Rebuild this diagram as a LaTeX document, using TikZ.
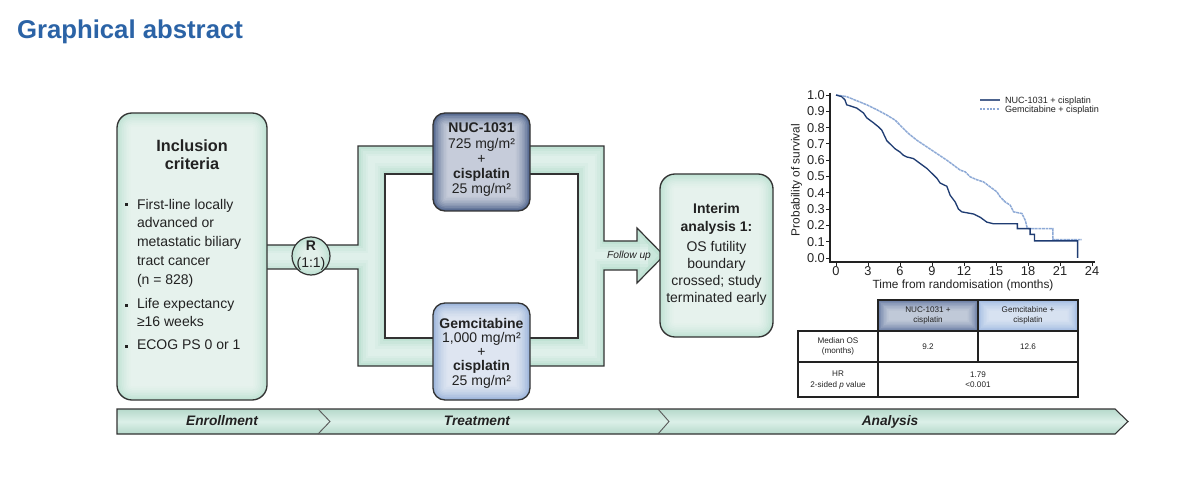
\documentclass[tikz,border=0pt]{standalone}
\usepackage{fontspec}
\setmainfont{Liberation Sans}
\usetikzlibrary{calc}
\definecolor{titleblue}{HTML}{2B63A6}
\definecolor{bandgreen}{HTML}{C0E2D4}
\definecolor{edgegray}{HTML}{333333}
\definecolor{txtgray}{HTML}{222222}
\definecolor{nucblue}{HTML}{53678F}
\definecolor{gemblue}{HTML}{9CB5DB}
\definecolor{nuchead}{HTML}{6C7FA6}
\definecolor{gemhead}{HTML}{A3BCE2}
\definecolor{kmdark}{HTML}{1F3C72}
\definecolor{kmlight}{HTML}{8DA9D6}
\definecolor{barmid}{HTML}{DCF0E8}
\definecolor{baredge}{HTML}{B6D9CB}
% #1 node, #2 corner radius (px), #3 steps, #4 step (px)
\newcommand\glowfill[4]{%
  \foreach \i in {1,...,#3}{%
    \pgfmathsetmacro\rr{max(#2-#4*\i,0.3)*0.75}%
    \pgfmathsetmacro\dd{#4*\i}%
    \fill[white,opacity=0.12,rounded corners=\rr pt]
      ([shift={(\dd,\dd)}]#1.north west) rectangle ([shift={(-\dd,-\dd)}]#1.south east);
  }}
\begin{document}
\begin{tikzpicture}[x=0.75pt,y=-0.75pt,
  every node/.style={inner sep=0pt,outer sep=0pt,text=txtgray},
  gbox/.style={draw=edgegray,line width=1pt,rectangle},
  body/.style={font=\fontsize{10.5}{12}\selectfont},
  bodyb/.style={font=\fontsize{10.5}{12}\selectfont\bfseries},
  hd/.style={font=\fontsize{12.2}{14}\selectfont\bfseries},
  barlbl/.style={font=\fontsize{10.3}{12}\selectfont\bfseries\itshape},
  tick/.style={font=\fontsize{9.6}{11}\selectfont},
  axlbl/.style={font=\fontsize{8.9}{10}\selectfont},
  leg/.style={font=\fontsize{6.8}{8}\selectfont},
  tab/.style={font=\fontsize{6.1}{7.6}\selectfont,align=center},
  cell/.style={draw=txtgray,line width=0.9pt,rectangle},
]
\useasboundingbox[fill=white] (0,0) rectangle (1200,481);

% ---------- title
\node[anchor=base west,font=\fontsize{19.3}{23}\selectfont\bfseries,text=titleblue] (title) at (17,38.5) {Graphical abstract};

% ---------- green band (randomisation frame + follow-up arrow)
\fill[bandgreen,even odd rule]
  (267,245) -- (358,245) -- (358,146) -- (604,146) -- (604,241) -- (637,241) -- (637,228)
  -- (664,255.5) -- (637,283) -- (637,270) -- (604,270) -- (604,366) -- (358,366)
  -- (358,269) -- (267,269) -- cycle
  (385,174) rectangle (578,338);
\foreach \w in {22,17,12,7}{
  \draw[white,opacity=0.17,line width=\w*0.75pt,line join=miter]
    (267,257) -- (371.5,257)
    (371.5,160) rectangle (591,352)
    (591,255.5) -- (648,255.5);
}
\fill[white,opacity=0.17] (640,236) -- (658,255.5) -- (640,275) -- cycle;
\draw[edgegray,line width=0.9pt,line join=miter]
  (267,245) -- (358,245) -- (358,146) -- (604,146) -- (604,241) -- (637,241) -- (637,228)
  -- (664,255.5) -- (637,283) -- (637,270) -- (604,270) -- (604,366) -- (358,366)
  -- (358,269) -- (267,269);
\draw[edgegray,line width=0.9pt] (385,174) rectangle (578,338);
\node[font=\fontsize{7.7}{9}\selectfont\itshape] (fu) at (629,256) {Follow up};

% ---------- inclusion box
\node[gbox,minimum width=112.5pt,minimum height=215.25pt,rounded corners=11.25pt,fill=bandgreen] (incl) at (192,256.5) {};
\glowfill{incl}{15}{8}{1.7}
\node[hd,anchor=mid] (inclA) at (192,148) {Inclusion};
\node[hd,anchor=mid] (inclB) at (192,166) {criteria};
\foreach \y in {205,305,346}{\fill[txtgray] (125,\y-1.5) rectangle (128,\y+1.5);}
\node[body,anchor=mid west] (i1) at (137,206) {First-line locally};
\node[body,anchor=mid west] (i2) at (137,224) {advanced or};
\node[body,anchor=mid west] (i3) at (137,243) {metastatic biliary};
\node[body,anchor=mid west] (i4) at (137,262) {tract cancer};
\node[body,anchor=mid west] (i5) at (137,281) {(n = 828)};
\node[body,anchor=mid west] (i6) at (137,305) {Life expectancy};
\node[body,anchor=mid west] (i7) at (137,323) {≥16 weeks};
\node[body,anchor=mid west] (i8) at (137,346) {ECOG PS 0 or 1};

% ---------- randomisation circle
\node[draw=edgegray,line width=0.9pt,circle,minimum size=28.5pt,fill=bandgreen] (R) at (311,256) {};
\foreach \i in {1,...,6}{\fill[white,opacity=0.13] (R.center) circle ({19-1.8*\i});}
\node[bodyb,anchor=mid] (Rt) at (311,247) {R};
\node[body,anchor=mid] (Rr) at (311,264) {(1:1)};

% ---------- NUC-1031 arm
\node[gbox,minimum width=72.75pt,minimum height=73.5pt,rounded corners=9pt,fill=nucblue] (nuc) at (481.5,162) {};
\glowfill{nuc}{12}{9}{1.6}
\node[bodyb,anchor=mid] (n1) at (481.5,129) {NUC-1031};
\node[body,anchor=mid] (n2) at (481.5,145) {725 mg/m²};
\node[body,anchor=mid] (n3) at (481.5,160) {+};
\node[bodyb,anchor=mid] (n4) at (481.5,175) {cisplatin};
\node[body,anchor=mid] (n5) at (481.5,190) {25 mg/m²};

% ---------- Gemcitabine arm
\node[gbox,minimum width=72.75pt,minimum height=72.75pt,rounded corners=9pt,fill=gemblue] (gem) at (481.5,351.5) {};
\glowfill{gem}{12}{9}{1.6}
\node[bodyb,anchor=mid] (g1) at (481.5,325) {Gemcitabine};
\node[body,anchor=mid] (g2) at (481.5,339) {1,000 mg/m²};
\node[body,anchor=mid] (g3) at (481.5,353) {+};
\node[bodyb,anchor=mid] (g4) at (481.5,367) {cisplatin};
\node[body,anchor=mid] (g5) at (481.5,382) {25 mg/m²};

% ---------- interim analysis box
\node[gbox,minimum width=84.75pt,minimum height=122.25pt,rounded corners=11.25pt,fill=bandgreen] (ia) at (716.5,255.5) {};
\glowfill{ia}{15}{8}{1.7}
\node[bodyb,anchor=mid] (a1) at (716.5,210) {Interim};
\node[bodyb,anchor=mid] (a2) at (716.5,228) {analysis 1:};
\node[body,anchor=mid] (a3) at (716.5,248) {OS futility};
\node[body,anchor=mid] (a4) at (716.5,265) {boundary};
\node[body,anchor=mid] (a5) at (716.5,282) {crossed; study};
\node[body,anchor=mid] (a6) at (716.5,299) {terminated early};

% ---------- bottom phase bar
\path[draw=edgegray,line width=0.8pt,top color=baredge,bottom color=baredge,middle color=barmid]
  (117,409) -- (1115,409) -- (1128,421.5) -- (1115,434) -- (117,434) -- cycle;
\draw[edgegray!80,line width=0.7pt] (318,409) -- (330,421.5) -- (318,434);
\draw[edgegray!80,line width=0.7pt] (658,409) -- (669,421.5) -- (658,434);
\node[barlbl,anchor=mid] (b1) at (222,421.5) {Enrollment};
\node[barlbl,anchor=mid] (b2) at (477,421.5) {Treatment};
\node[barlbl,anchor=mid] (b3) at (890,421.5) {Analysis};

% ---------- Kaplan-Meier plot
\begin{scope}[shift={(836,258)},xscale=10.667,yscale=-163]
  \draw[txtgray,line width=0.8pt] (-0.5625,1.015) -- (-0.5625,-0.0245) -- (24.3,-0.0245);
  \foreach \s/\l in {0/0.0,0.1/0.1,0.2/0.2,0.3/0.3,0.4/0.4,0.5/0.5,0.6/0.6,0.7/0.7,0.8/0.8,0.9/0.9,1/1.0}{
    \draw[txtgray,line width=0.7pt] (-0.5625,\s) -- (-0.94,\s);
    \node[tick,anchor=east] at (-1.05,\s) {\l};
  }
  \foreach \m in {0,3,...,24}{
    \draw[txtgray,line width=0.7pt] (\m,-0.0245) -- (\m,-0.05);
    \node[tick,anchor=mid] at (\m,-0.085) {\m};
  }
  \draw[kmlight,line width=1.1pt,dash pattern=on 2.2pt off 0.5pt]
    (0,1.0) -- (1.0,0.99) -- (1.94,0.965) -- (2.88,0.94) -- (3.82,0.91) -- (4.76,0.877)
    -- (5.54,0.846) -- (6.16,0.805) -- (6.79,0.764) -- (7.57,0.723) -- (8.51,0.682)
    -- (9.45,0.641) -- (10.39,0.60) -- (11.01,0.57) -- (11.64,0.539) -- (12.1,0.529)
    -- (12.58,0.498) -- (13.2,0.48) -- (13.83,0.467) -- (14.46,0.436) -- (15.08,0.406)
    -- (15.39,0.375) -- (15.86,0.344) -- (16.33,0.324) -- (16.65,0.283) -- (17.43,0.273)
    -- (17.74,0.232) -- (17.9,0.19) -- (18.05,0.18) -- (20.34,0.18) -- (20.34,0.113) -- (23.06,0.113);
  \draw[kmdark,line width=1pt]
    (0,1.0) -- (0.53,0.99) -- (0.84,0.97) -- (1.0,0.94) -- (1.94,0.92) -- (2.57,0.89)
    -- (2.88,0.86) -- (3.5,0.83) -- (3.97,0.805) -- (4.29,0.785) -- (4.76,0.72) -- (5.07,0.70)
    -- (5.54,0.67) -- (6.0,0.65) -- (6.32,0.63) -- (6.63,0.62) -- (7.26,0.61) -- (7.88,0.58)
    -- (8.51,0.55) -- (8.98,0.52) -- (9.45,0.49) -- (9.76,0.46) -- (10.39,0.44) -- (10.7,0.385)
    -- (11.17,0.344) -- (11.48,0.30) -- (11.8,0.283) -- (12.89,0.27) -- (13.52,0.25) -- (14.14,0.22)
    -- (14.77,0.21) -- (17.0,0.21) -- (17.0,0.18) -- (18.2,0.18) -- (18.2,0.145) -- (18.6,0.145)
    -- (18.6,0.105) -- (22.65,0.105) -- (22.65,0);
\end{scope}
\node[axlbl,anchor=mid] (xl) at (963,285) {Time from randomisation (months)};
\node[axlbl,anchor=mid,rotate=90] (yl) at (796,180) {Probability of survival};
\coordinate (l1a) at (980,100); \coordinate (l1b) at (1000,100);
\coordinate (l2a) at (980,109); \coordinate (l2b) at (1000,109);
\draw[kmdark!80,line width=0.8pt] (l1a) -- (l1b);
\draw[kmlight,line width=0.8pt,dash pattern=on 1.5pt off 1pt] (l2a) -- (l2b);
\node[leg,anchor=mid west] (lg1) at (1005,100) {NUC-1031 + cisplatin};
\node[leg,anchor=mid west] (lg2) at (1005,109) {Gemcitabine + cisplatin};

% ---------- results table
\node[cell,minimum width=75pt,minimum height=23.25pt,fill=nuchead] (h2) at (928,315.5) {};
\glowfill{h2}{0}{7}{1.5}
\node[cell,minimum width=75pt,minimum height=23.25pt,fill=gemhead] (h3) at (1028,315.5) {};
\glowfill{h3}{0}{7}{1.5}
\node[tab] (h2t) at (928,315.5) {NUC-1031 +\\cisplatin};
\node[tab] (h3t) at (1028,315.5) {Gemcitabine +\\cisplatin};
\node[cell,minimum width=60pt,minimum height=23.25pt] (r1c1) at (838,346.5) {};
\node[cell,minimum width=75pt,minimum height=23.25pt] (r1c2) at (928,346.5) {};
\node[cell,minimum width=75pt,minimum height=23.25pt] (r1c3) at (1028,346.5) {};
\node[cell,minimum width=60pt,minimum height=26.25pt] (r2c1) at (838,379.5) {};
\node[cell,minimum width=150pt,minimum height=26.25pt] (r2c2) at (978,379.5) {};
\node[tab] (t11) at (838,346.5) {Median OS\\(months)};
\node[tab] (t12) at (928,346.5) {9.2};
\node[tab] (t13) at (1028,346.5) {12.6};
\node[tab] (t21) at (838,380) {HR\\2-sided \textit{p} value};
\node[tab] (t22) at (978,380) {1.79\\<0.001};
\end{tikzpicture}
\end{document}
